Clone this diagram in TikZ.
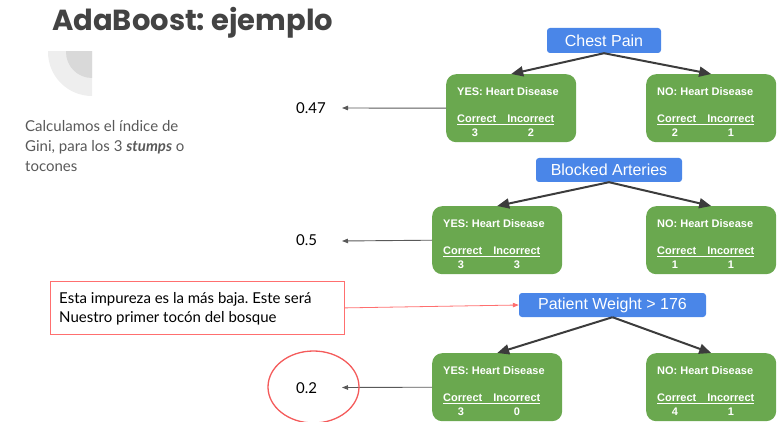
\documentclass[tikz,border=0pt]{standalone}
\usepackage{fontspec}
\setmainfont{Liberation Sans}
\newfontfamily\latofont{Lato}
\newfontfamily\titlefont{Poppins}
\usetikzlibrary{arrows.meta,calc,shapes.geometric}
\frenchspacing

\definecolor{nodeblue}{HTML}{4A86E8}
\definecolor{leafgreen}{HTML}{6AA84F}
\definecolor{titlegray}{HTML}{434343}
\definecolor{bodygray}{HTML}{595959}
\definecolor{edgedark}{HTML}{3C3C3C}
\definecolor{notered}{HTML}{FF6F6F}
\definecolor{ringred}{HTML}{F45B5B}
\definecolor{decolight}{HTML}{EEEEEE}
\definecolor{decodark}{HTML}{D9D9D9}

% one leaf of a stump: name, north-west corner, branch, correct, incorrect
\newcommand\leafbox[5]{%
  \node[leaf] (#1) at (#2) {};
  \node[leaftxt] (#1-head) at ($(#1.north west)+(11,18)$) {#3: Heart Disease};
  \node[leaftxt] (#1-cols) at ($(#1.north west)+(11,46)$) {\underline{Correct\hspace{11pt}Incorrect}};
  \node[leaftxt,anchor=center] (#1-ok) at ($(#1.north west)+(29,58.5)$) {#4};
  \node[leaftxt,anchor=center] (#1-bad) at ($(#1.north west)+(85,58.5)$) {#5};
}

\begin{document}
\begin{tikzpicture}[x=1pt,y=-1pt,
  split/.style={fill=nodeblue, rounded corners=3pt, text=white, inner sep=0pt,
    font=\fontsize{16}{18}\selectfont},
  leaf/.style={fill=leafgreen, rounded corners=10pt, minimum width=130pt,
    minimum height=68pt, inner sep=0pt, anchor=north west},
  leaftxt/.style={text=white, inner sep=0pt, anchor=west,
    font=\fontsize{11}{13}\selectfont\bfseries},
  branch/.style={draw=edgedark, line width=2pt,
    -{Triangle[length=12pt,width=10pt]}},
  score/.style={inner sep=0pt, anchor=base west, text=black,
    font=\latofont\fontsize{15}{17}\selectfont},
  scorearrow/.style={draw=bodygray, line width=0.9pt,
    -{Triangle[length=6pt,width=4.5pt]}},
  notearrow/.style={draw=notered, line width=0.8pt,
    -{Triangle[length=6pt,width=4.5pt]}},
]
\useasboundingbox (0,0) rectangle (782,422);

% title and corner ornament
\node[anchor=base west, inner sep=0pt, text=titlegray,
  font=\titlefont\bfseries\fontsize{29}{31}\selectfont] (title) at (52,31) {AdaBoost: ejemplo};
\begin{scope}
  \clip (48,52) rectangle (92,96);
  \fill[decolight] (92,52) circle[radius=44pt];
  \fill[decodark] (92,52) circle[radius=26pt];
\end{scope}

% description (base anchor sits on the last line)
\node[anchor=base west, inner sep=0pt, text=bodygray, align=left,
  font=\latofont\fontsize{15}{20}\selectfont] (desc) at (25,172)
  {Calculamos el índice de\\Gini, para los 3 \textbf{\textit{stumps}} o\\tocones};

% stump 1: chest pain
\node[split, minimum width=114pt, minimum height=25pt] (cp) at (604,40.5) {Chest Pain};
\leafbox{cpyes}{446,74}{YES}{3}{2}
\leafbox{cpno}{646,74}{NO}{2}{1}
\draw[branch] (cp.south) -- (cpyes.north);
\draw[branch] (cp.south) -- (cpno.north);

% stump 2: blocked arteries
\node[split, minimum width=146pt, minimum height=24pt] (ba) at (609,170) {Blocked Arteries};
\leafbox{bayes}{432,206}{YES}{3}{3}
\leafbox{bano}{646,206}{NO}{1}{1}
\draw[branch] (ba.south) -- (bayes.north);
\draw[branch] (ba.south) -- (bano.north);

% stump 3: patient weight
\node[split, minimum width=187pt, minimum height=24pt] (pw) at (612.5,305) {Patient Weight > 176};
\leafbox{pwyes}{432,353}{YES}{3}{0}
\leafbox{pwno}{646,353}{NO}{4}{1}
\draw[branch] (pw.south) -- (pwyes.north);
\draw[branch] (pw.south) -- (pwno.north);

% Gini scores
\node[score] (g1) at (296,114) {0.47};
\node[score] (g2) at (296,246) {0.5};
\node[score] (g3) at (296,393) {0.2};
\coordinate (g1-in) at (342,108);
\coordinate (g2-in) at (342,241);
\coordinate (g3-in) at (342,387.5);
\draw[scorearrow] (cpyes.west) -- (g1-in);
\draw[scorearrow] (bayes.west) -- (g2-in);
\draw[scorearrow] (pwyes.west) -- (g3-in);
\node[draw=ringred, ellipse, line width=1.3pt, minimum width=91pt,
  minimum height=72pt, inner sep=0pt] (ring) at (313.5,387) {};

% remark on the lowest impurity
\node[draw=notered, line width=0.8pt, minimum width=294pt, minimum height=53pt,
  inner sep=0pt, anchor=north west] (note) at (50,281) {};
\node[anchor=west, inner sep=0pt, align=left, text=black,
  font=\latofont\fontsize{15}{19}\selectfont] (note-text) at ($(note.west)+(9,0.5)$)
  {Esta impureza es la más baja. Este será\\Nuestro primer tocón del bosque};
\draw[notearrow] (note.east) -- (pw.west);
\end{tikzpicture}
\end{document}
